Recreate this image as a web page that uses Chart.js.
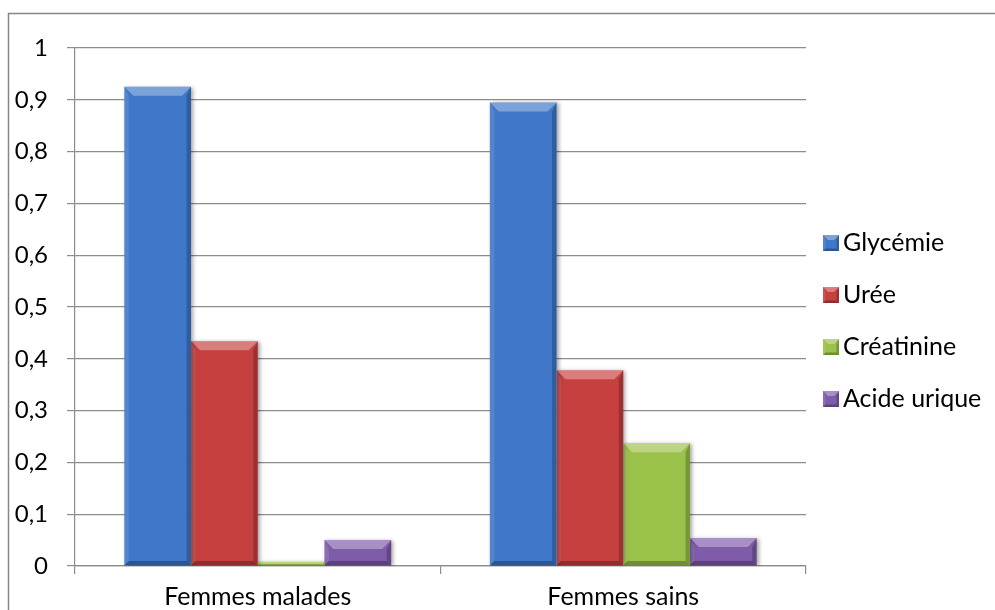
<!DOCTYPE html>
<html>
<head>
<meta charset="utf-8">
<script src="https://cdn.jsdelivr.net/npm/chart.js@4"></script>
<style>
  html, body { margin: 0; padding: 0; background: #fff; }
  #wrap { width: 995px; height: 610px; }
</style>
</head>
<body>
<div id="wrap"><canvas id="bilanChart" width="995" height="610"></canvas></div>
<script>
const categories = ['Femmes malades', 'Femmes sains'];
const seriesNames = ['Glycémie', 'Urée', 'Créatinine', 'Acide urique'];
const glycemie = [0.925, 0.895];
const uree = [0.434, 0.378];
const creatinine = [0.008, 0.237];
const acideUrique = [0.05, 0.054];
const seriesColors = ['#3f78c8', '#c74040', '#9bc24b', '#7f5caa'];

const FONT = 'Lato, "Open Sans", sans-serif';

function facet(ctx, pts, color){
    ctx.beginPath();
    ctx.moveTo(pts[0][0], pts[0][1]);
    for(let i = 1; i < pts.length; i++) ctx.lineTo(pts[i][0], pts[i][1]);
    ctx.closePath();
    ctx.fillStyle = color;
    ctx.fill();
}

// bevelled look: light top, dark right/bottom edges
function bevel(ctx, l, t, r, b, size){
    let s = Math.min(size, (b - t) / 2, (r - l) / 2);
    if(s <= 0) return;
    facet(ctx, [[l, t], [r, t], [r - s, t + s], [l + s, t + s]], 'rgba(255,255,255,0.32)');
    facet(ctx, [[l, t], [l + s * 0.5, t + s], [l + s * 0.5, b - s * 0.5], [l, b]], 'rgba(255,255,255,0.10)');
    facet(ctx, [[r, t], [r, b], [r - s * 0.5, b - s * 0.5], [r - s * 0.5, t + s]], 'rgba(0,0,0,0.22)');
    facet(ctx, [[l, b], [l + s * 0.5, b - s * 0.5], [r - s * 0.5, b - s * 0.5], [r, b]], 'rgba(0,0,0,0.28)');
}

const bevelBars = {
    id: 'bevelBars',
    beforeDatasetsDraw(chart){
        const ctx = chart.ctx;
        ctx.save();
        ctx.shadowColor = 'rgba(0,0,0,0.35)';
        ctx.shadowBlur = 4;
        ctx.shadowOffsetX = 2;
        ctx.shadowOffsetY = 1;
    },
    afterDatasetsDraw(chart){
        const ctx = chart.ctx;
        ctx.restore();
        chart.data.datasets.forEach((ds, i) => {
            chart.getDatasetMeta(i).data.forEach(bar => {
                bevel(ctx, bar.x - bar.width / 2, bar.y, bar.x + bar.width / 2, bar.base, 9);
            });
        });
    },
    afterDraw(chart){
        const ctx = chart.ctx;
        ctx.save();
        // outer frame (runs off the right and bottom edges)
        ctx.strokeStyle = '#868686';
        ctx.lineWidth = 1.5;
        ctx.strokeRect(8.5, 13.5, 1000, 620);
        // legend
        ctx.font = '25px ' + FONT;
        ctx.textBaseline = 'middle';
        chart.data.datasets.forEach((ds, i) => {
            let y = 243 + i * 52;
            ctx.fillStyle = ds.backgroundColor;
            ctx.fillRect(823, y - 8, 16, 16);
            bevel(ctx, 823, y - 8, 839, y + 8, 5);
            ctx.fillStyle = '#000';
            ctx.fillText(ds.label, 843, y);
        });
        ctx.restore();
    }
};

function createChart(){
    const data = [glycemie, uree, creatinine, acideUrique];
    new Chart(document.getElementById('bilanChart'), {
        type: 'bar',
        data: {
            labels: categories,
            datasets: seriesNames.map((name, i) => ({
                label: name,
                data: data[i],
                backgroundColor: seriesColors[i],
                borderWidth: 0,
                barPercentage: 1,
                categoryPercentage: 0.73
            }))
        },
        options: {
            responsive: false,
            animation: false,
            layout: { padding: { left: 0, top: 48, right: 189, bottom: 0 } },
            plugins: {
                legend: { display: false },
                tooltip: { enabled: false }
            },
            scales: {
                y: {
                    min: 0,
                    max: 1,
                    afterFit: scale => { scale.width = 75; },
                    ticks: {
                        stepSize: 0.1,
                        padding: 19,
                        color: '#000',
                        font: { family: FONT, size: 24 },
                        callback: v => String(Math.round(v * 10) / 10).replace('.', ',')
                    },
                    grid: { color: '#8c8c8c', lineWidth: 1.2, tickLength: 8 },
                    border: { color: '#8c8c8c', width: 1.2 }
                },
                x: {
                    afterFit: scale => { scale.height = 44; },
                    ticks: {
                        padding: 8,
                        color: '#000',
                        font: { family: FONT, size: 25 }
                    },
                    grid: { drawOnChartArea: false, color: '#8c8c8c', lineWidth: 1.2, tickLength: 8 },
                    border: { color: '#8c8c8c', width: 1.2 }
                }
            }
        },
        plugins: [bevelBars]
    });
}

document.addEventListener('DOMContentLoaded', createChart);
</script>
</body>
</html>
